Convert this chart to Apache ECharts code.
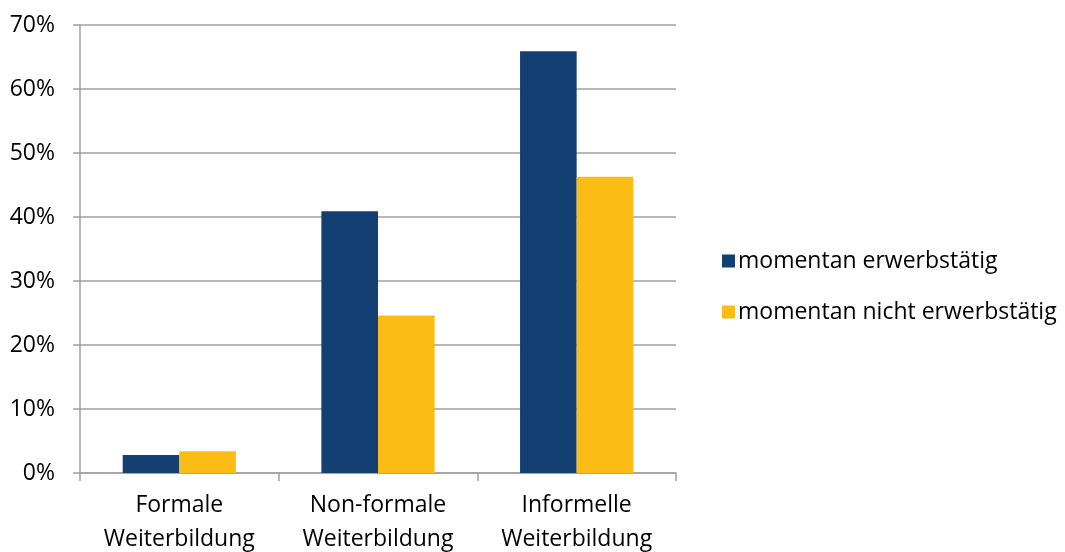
<!DOCTYPE html>
<html>
<head>
<meta charset="utf-8">
<script src="https://cdn.jsdelivr.net/npm/echarts@6/dist/echarts.min.js"></script>
<style>html,body{margin:0;padding:0;background:#fff}#c{width:1065px;height:552px}</style>
</head>
<body>
<div id="c"></div>
<script>
const categories = ['Formale\nWeiterbildung', 'Non-formale\nWeiterbildung', 'Informelle\nWeiterbildung'];
const seriesNames = ['momentan erwerbstätig', 'momentan nicht erwerbstätig'];
const erwerbstaetig = [2.8, 40.9, 65.9];
const nichtErwerbstaetig = [3.4, 24.6, 46.3];
const yTicks = [0, 10, 20, 30, 40, 50, 60, 70];

const font = 'Open Sans';
const fs = 23;
const chart = echarts.init(document.getElementById('c'));
chart.setOption({
  animation: false,
  textStyle: { fontFamily: font },
  grid: { left: 80, right: 389, top: 25, bottom: 79, containLabel: false, outerBoundsMode: 'none' },
  legend: {
    orient: 'vertical', left: 717, top: 244,
    itemWidth: 13, itemHeight: 13, itemGap: 27,
    icon: 'rect',
    textStyle: { fontFamily: font, fontSize: fs, color: '#000', lineHeight: 24, padding: [0, 0, 0, -2] },
    data: seriesNames
  },
  xAxis: {
    type: 'category', data: categories,
    axisLine: { lineStyle: { color: '#a0a0a0', width: 1.5 } },
    axisTick: { show: true, length: 8, lineStyle: { color: '#a0a0a0', width: 1.5 } },
    axisLabel: { fontFamily: font, fontSize: fs, color: '#000', lineHeight: 34, margin: 15 }
  },
  yAxis: {
    type: 'value', min: 0, max: 70, interval: 10,
    axisLine: { show: true, lineStyle: { color: '#a0a0a0', width: 1.5 } },
    axisTick: { show: true, length: 7, lineStyle: { color: '#a0a0a0', width: 1.5 } },
    splitLine: { lineStyle: { color: '#a0a0a0', width: 1.5 } },
    axisLabel: { fontFamily: font, fontSize: fs, color: '#000', margin: 25,
      formatter: v => yTicks.includes(v) ? v + '%' : '' }
  },
  series: [
    { name: seriesNames[0], type: 'bar', data: erwerbstaetig, barGap: '0%', barCategoryGap: '43%',
      itemStyle: { color: '#143f73' } },
    { name: seriesNames[1], type: 'bar', data: nichtErwerbstaetig, barGap: '0%', barCategoryGap: '43%',
      itemStyle: { color: '#fbbd15' } }
  ]
});
</script>
</body>
</html>
